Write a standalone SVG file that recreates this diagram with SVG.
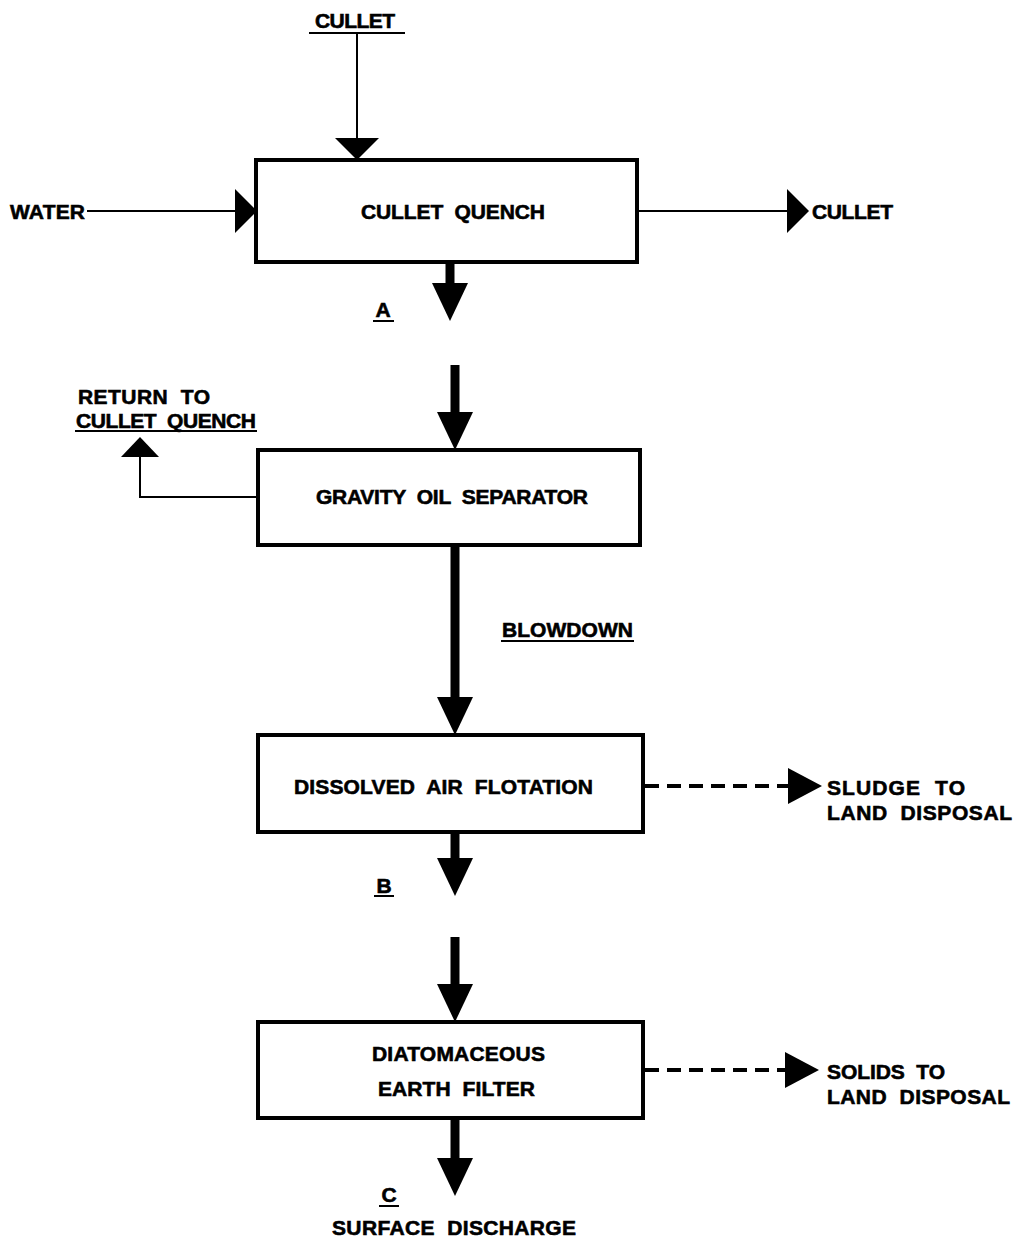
<svg xmlns="http://www.w3.org/2000/svg" xmlns:xlink="http://www.w3.org/1999/xlink" width="1014" height="1240" viewBox="0 0 1014 1240">
  <style>
    .box { fill: #fff; stroke: #000; stroke-width: 4; }
    .thin { fill: none; stroke: #000; stroke-width: 2; }
    .thick { fill: none; stroke: #000; stroke-width: 9; }
    .dash { fill: none; stroke: #000; stroke-width: 4; stroke-dasharray: 14 8; }
    .head { fill: #000; }
    .lbl { font-family: "Liberation Sans", Arial, sans-serif; font-weight: bold; font-size: 21px; fill: #000; stroke: #000; stroke-width: 0.6; white-space: pre; }
    .ul { stroke: #000; stroke-width: 2; }
  </style>
  <defs>
    <!-- large down-pointing head for main flow -->
    <path id="bigDown" class="head" d="M-18,0 L18,0 L0,38 Z"/>
    <!-- flat heads for thin feed lines -->
    <path id="flatRight" class="head" d="M0,-22 L22,0 L0,22 Z"/>
    <path id="flatDown" class="head" d="M-22,0 L22,0 L0,22 Z"/>
    <path id="flatUp" class="head" d="M-19,0 L19,0 L0,-20 Z"/>
    <!-- head for dashed solids streams -->
    <path id="dashRight" class="head" d="M0,-18 L34,0 L0,18 Z"/>
  </defs>
  <rect width="1014" height="1240" fill="#fff"/>

  <g id="connectors">
    <!-- cullet feed from top -->
    <line class="ul" x1="309" y1="33" x2="405" y2="33"/>
    <line class="thin" x1="357" y1="33" x2="357" y2="140"/>
    <use xlink:href="#flatDown" x="357" y="138"/>
    <!-- water feed -->
    <line class="thin" x1="87" y1="211" x2="238" y2="211"/>
    <use xlink:href="#flatRight" x="235" y="211"/>
    <!-- cullet out -->
    <line class="thin" x1="637" y1="211" x2="790" y2="211"/>
    <use xlink:href="#flatRight" x="787" y="211"/>
    <!-- stream A -->
    <line class="thick" x1="450" y1="262" x2="450" y2="285"/>
    <use xlink:href="#bigDown" x="450" y="283"/>
    <line class="thick" x1="455" y1="365" x2="455" y2="414"/>
    <use xlink:href="#bigDown" x="455" y="412"/>
    <!-- return to cullet quench -->
    <polyline class="thin" points="258,497 140,497 140,455"/>
    <use xlink:href="#flatUp" x="140" y="457"/>
    <!-- blowdown -->
    <line class="thick" x1="455" y1="545" x2="455" y2="700"/>
    <use xlink:href="#bigDown" x="455" y="697"/>
    <!-- sludge -->
    <line class="dash" x1="645" y1="786" x2="790" y2="786"/>
    <use xlink:href="#dashRight" x="788" y="786"/>
    <!-- stream B -->
    <line class="thick" x1="455" y1="832" x2="455" y2="860"/>
    <use xlink:href="#bigDown" x="455" y="858"/>
    <line class="thick" x1="455" y1="937" x2="455" y2="986"/>
    <use xlink:href="#bigDown" x="455" y="984"/>
    <!-- solids -->
    <line class="dash" x1="645" y1="1070" x2="786" y2="1070"/>
    <use xlink:href="#dashRight" x="785" y="1070"/>
    <!-- stream C -->
    <line class="thick" x1="455" y1="1118" x2="455" y2="1160"/>
    <use xlink:href="#bigDown" x="455" y="1158"/>
  </g>

  <g id="quench">
    <rect class="box" x="256" y="160" width="381" height="102"/>
    <text class="lbl" x="361" y="219" textLength="184" lengthAdjust="spacing">CULLET  QUENCH</text>
  </g>
  <g id="separator">
    <rect class="box" x="258" y="450" width="382" height="95"/>
    <text class="lbl" x="316" y="504" textLength="272" lengthAdjust="spacing">GRAVITY  OIL  SEPARATOR</text>
  </g>
  <g id="flotation">
    <rect class="box" x="258" y="735" width="385" height="97"/>
    <text class="lbl" x="294" y="794" textLength="299" lengthAdjust="spacing">DISSOLVED  AIR  FLOTATION</text>
  </g>
  <g id="filter">
    <rect class="box" x="258" y="1022" width="385" height="96"/>
    <text class="lbl" x="372" y="1061" textLength="173" lengthAdjust="spacing">DIATOMACEOUS</text>
    <text class="lbl" x="378" y="1096" textLength="157" lengthAdjust="spacing">EARTH  FILTER</text>
  </g>

  <g id="labels">
    <text class="lbl" x="315" y="28" textLength="80" lengthAdjust="spacing">CULLET</text>
    <text class="lbl" x="10" y="219" textLength="75" lengthAdjust="spacing">WATER</text>
    <text class="lbl" x="812" y="219" textLength="81" lengthAdjust="spacing">CULLET</text>
    <text class="lbl" x="383" y="317" text-anchor="middle">A</text>
    <line class="ul" x1="373" y1="321" x2="394" y2="321"/>
    <text class="lbl" x="78" y="404" textLength="132" lengthAdjust="spacing">RETURN  TO</text>
    <text class="lbl" x="76" y="428" textLength="180" lengthAdjust="spacing">CULLET  QUENCH</text>
    <line class="ul" x1="75" y1="431" x2="257" y2="431"/>
    <text class="lbl" x="502" y="637" textLength="131" lengthAdjust="spacing">BLOWDOWN</text>
    <line class="ul" x1="501" y1="641" x2="634" y2="641"/>
    <text class="lbl" x="827" y="795" textLength="138" lengthAdjust="spacing">SLUDGE  TO</text>
    <text class="lbl" x="827" y="820" textLength="185" lengthAdjust="spacing">LAND  DISPOSAL</text>
    <text class="lbl" x="384" y="893" text-anchor="middle">B</text>
    <line class="ul" x1="374" y1="896" x2="394" y2="896"/>
    <text class="lbl" x="827" y="1079" textLength="118" lengthAdjust="spacing">SOLIDS  TO</text>
    <text class="lbl" x="827" y="1104" textLength="183" lengthAdjust="spacing">LAND  DISPOSAL</text>
    <text class="lbl" x="389" y="1202" text-anchor="middle">C</text>
    <line class="ul" x1="379" y1="1206" x2="399" y2="1206"/>
    <text class="lbl" x="332" y="1235" textLength="244" lengthAdjust="spacing">SURFACE  DISCHARGE</text>
  </g>
</svg>
